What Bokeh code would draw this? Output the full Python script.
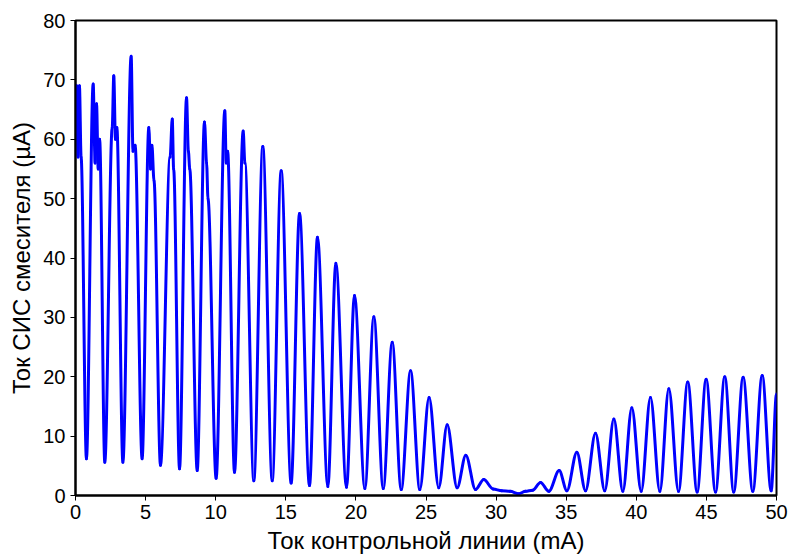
from bokeh.plotting import figure
from bokeh.models import FixedTicker, ColumnDataSource
from bokeh.embed import file_html
from bokeh.resources import INLINE

# Control-line current (mA) and SIS mixer current (uA): vertices
x_ma = [0.00, 0.08, 0.18, 0.28, 0.40, 0.78,
        1.26, 1.40, 1.50, 1.62, 1.72, 2.09,
        2.62, 2.73, 2.85, 2.95, 3.38,
        3.97, 4.10, 4.25, 4.75,
        5.23, 5.35, 5.45, 5.60, 6.06,
        6.75, 6.90, 7.00, 7.42,
        7.92, 8.05, 8.15, 8.68,
        9.20, 9.35, 9.45, 10.03,
        10.65, 10.75, 10.85, 11.34,
        11.96, 12.08, 12.72,
        13.36, 14.03, 14.67, 15.38, 15.98, 16.69, 17.26, 18.00,
        18.57, 19.33, 19.90, 20.64, 21.28, 21.95, 22.59, 23.23,
        23.90, 24.56, 25.22, 25.91, 26.51, 27.22, 27.84, 28.53,
        29.12, 29.79, 30.40, 31.00, 31.62, 32.10, 32.60, 33.17, 33.76,
        34.50, 35.05, 35.76, 36.38, 37.09, 37.75, 38.40, 39.04,
        39.68, 40.35, 41.01, 41.68, 42.32, 43.01, 43.67, 44.34,
        44.98, 45.65, 46.31, 46.95, 47.62, 48.31, 48.98, 49.62, 50.00]
i_ua = [62.0, 69.0, 57.0, 69.0, 57.0, 6.2,
        69.3, 56.0, 66.0, 55.0, 60.0, 5.6,
        62.0, 70.7, 60.0, 62.0, 5.6,
        74.0, 58.0, 59.0, 6.2,
        62.0, 55.0, 59.0, 53.0, 5.1,
        57.0, 63.4, 55.0, 4.5,
        67.0, 58.0, 55.0, 4.2,
        62.9, 56.0, 50.0, 2.9,
        64.8, 56.0, 58.0, 3.9,
        61.4, 56.0, 2.5,
        58.8, 2.5, 54.7, 2.1, 47.5, 1.7, 43.5, 1.5,
        39.1, 1.4, 33.7, 1.2, 30.1, 1.2, 25.8, 1.0,
        21.0, 1.0, 16.5, 1.3, 11.9, 1.3, 6.8, 1.0,
        2.7, 1.1, 0.8, 0.7, 0.3, 0.7, 0.9, 2.2, 0.7,
        4.2, 0.8, 7.3, 0.8, 10.5, 0.8, 12.9, 0.7,
        14.8, 0.7, 16.5, 0.7, 18.0, 0.7, 19.1, 0.6,
        19.6, 0.6, 20.0, 0.6, 19.9, 0.7, 20.2, 0.8, 17.1]

x_ticks = [0, 5, 10, 15, 20, 25, 30, 35, 40, 45, 50]
y_ticks = [0, 10, 20, 30, 40, 50, 60, 70, 80]

FONT = "Liberation Sans"

p = figure(width=792, height=559, output_backend="svg", toolbar_location=None,
           x_range=(0, 50), y_range=(0, 80),
           min_border_left=75, min_border_right=16, min_border_top=20, min_border_bottom=64)
p.background_fill_color = "white"
p.border_fill_color = "white"
p.xgrid.visible = False
p.ygrid.visible = False
p.outline_line_color = "black"
p.outline_line_width = 2

# smooth curve between consecutive vertices (horizontal tangents at each vertex)
x0, y0, x1, y1 = x_ma[:-1], i_ua[:-1], x_ma[1:], i_ua[1:]
cx0 = [a + (b - a) / 3 for a, b in zip(x0, x1)]
cx1 = [b - (b - a) / 3 for a, b in zip(x0, x1)]
src = ColumnDataSource(dict(x0=x0, y0=y0, x1=x1, y1=y1, cx0=cx0, cy0=y0, cx1=cx1, cy1=y1))
p.bezier(x0="x0", y0="y0", x1="x1", y1="y1", cx0="cx0", cy0="cy0", cx1="cx1", cy1="cy1",
         source=src, line_color="#0000FF", line_width=3, line_cap="round")

for ax in (p.xaxis[0], p.yaxis[0]):
    ax.axis_line_color = "black"
    ax.axis_line_width = 2
    ax.major_tick_in = 0
    ax.major_tick_out = 5
    ax.major_tick_line_color = "black"
    ax.minor_tick_line_color = None
    ax.major_label_text_font = FONT
    ax.major_label_text_font_size = "20px"
    ax.major_label_text_color = "black"
    ax.axis_label_text_font = FONT
    ax.axis_label_text_font_size = "24px"
    ax.axis_label_text_font_style = "normal"
    ax.axis_label_text_color = "black"

p.xaxis.ticker = FixedTicker(ticks=x_ticks)
p.yaxis.ticker = FixedTicker(ticks=y_ticks)
p.xaxis.axis_label = "Ток контрольной линии (mA)"
p.yaxis.axis_label = "Ток СИС смесителя (µА)"
p.xaxis.major_label_standoff = 4
p.yaxis.major_label_standoff = 5
p.xaxis.axis_label_standoff = 5
p.yaxis.axis_label_standoff = 5

open("out.html", "w").write(file_html(p, INLINE))
